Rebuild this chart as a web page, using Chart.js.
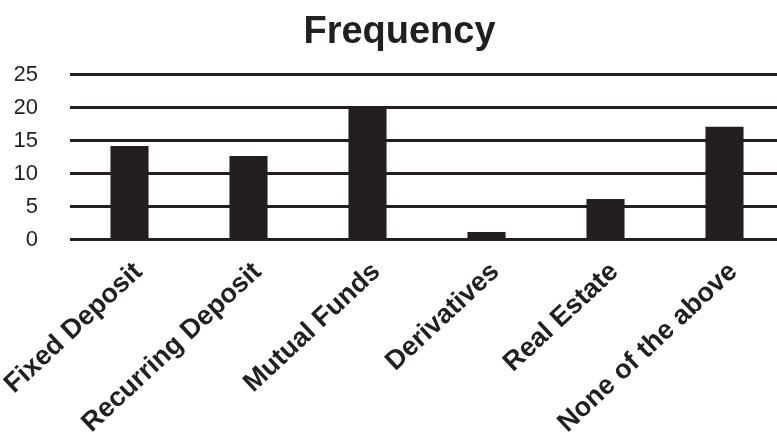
<!DOCTYPE html>
<html>
<head>
<meta charset="utf-8">
<script src="https://cdn.jsdelivr.net/npm/chart.js@4"></script>
<style>
  body { margin: 0; background: #fff; overflow: hidden; }
  #wrap { width: 784px; height: 447px; }
</style>
</head>
<body>
<div id="wrap"><canvas id="frequencyChart"></canvas></div>
<script>
const categories = ['Fixed Deposit', 'Recurring Deposit', 'Mutual Funds', 'Derivatives', 'Real Estate', 'None of the above'];
const frequency = [14.2, 12.7, 20, 1.2, 6.2, 17.1];
const yTicks = [0, 5, 10, 15, 20, 25];

const ink = '#231f20';
var ctx = document.getElementById('frequencyChart').getContext('2d');

// canvas is a bit wider than the window so the last bar lands where the reference has it
const frequencyChart = new Chart(ctx, {
    type: 'bar',
    data: {
        labels: categories,
        datasets: [{
            label: 'Frequency',
            data: frequency,
            backgroundColor: ink,
            borderWidth: 0,
            barPercentage: 0.32,
            categoryPercentage: 1,
        }]
    },
    options: {
        responsive: true,
        maintainAspectRatio: false,
        animation: false,
        layout: {
            padding: { left: 15 }
        },
        plugins: {
            legend: { display: false },
            tooltip: { enabled: false },
            title: {
                display: true,
                text: 'Frequency',
                color: ink,
                font: { size: 38, weight: 'bold', family: "Arial, sans-serif" },
                padding: { top: 10, bottom: 19 }
            }
        },
        scales: {
            x: {
                grid: { display: false },
                border: { display: false },
                ticks: {
                    color: ink,
                    minRotation: 43,
                    maxRotation: 43,
                    autoSkip: false,
                    padding: 8,
                    labelOffset: 9,
                    font: { size: 27, weight: 'bold', family: "Arial, sans-serif" }
                },
                afterFit: function(scale) {
                    // rotated labels would otherwise squeeze the plot from the left
                    scale.height = 207;
                    scale.paddingLeft = 0;
                    scale.paddingRight = 0;
                }
            },
            y: {
                min: 0,
                max: 25,
                afterBuildTicks: function(scale) {
                    scale.ticks = yTicks.map(v => ({ value: v }));
                },
                grid: { color: ink, lineWidth: 3, drawTicks: false },
                border: { display: false },
                ticks: {
                    color: ink,
                    padding: 32,
                    font: { size: 22, family: "Arial, sans-serif" }
                },
                afterFit: function(scale) { scale.width = 55; }
            }
        }
    }
});
</script>
</body>
</html>
